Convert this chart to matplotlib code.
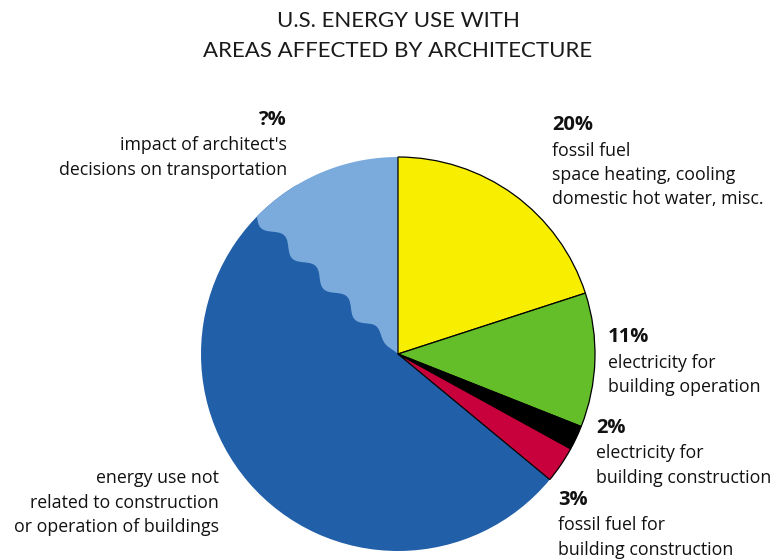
import numpy as np
import matplotlib
matplotlib.use("Agg")
import matplotlib.pyplot as plt
from matplotlib.patches import Polygon

## Data

shares = [20, 11, 2, 3, 51.3, 12.7]
colors = ["#f7ee00", "#63be2a", "#000000", "#c8003c", "#2160a9", "#7babdc"]
outlined = [True, True, True, True, False, False]

title_lines = ["U.S. ENERGY USE WITH", "AREAS AFFECTED BY ARCHITECTURE"]
pct_labels = ["20%", "11%", "2%", "3%", "", "?%"]
desc_labels = [
    ["fossil fuel", "space heating, cooling", "domestic hot water, misc."],
    ["electricity for", "building operation"],
    ["electricity for", "building construction"],
    ["fossil fuel for", "building construction"],
    ["energy use not", "related to construction", "or operation of buildings"],
    ["impact of architect's", "decisions on transportation"],
]

## Layout (pixel space, y measured from top)

W, H = 773, 559
cx, cy, r = 398, 354, 197
label_pos = [(552, 125, "left"), (608, 337, "left"), (596, 428, "left"),
             (558, 500, "left"), (219, 478, "right"), (287, 120, "right")]
line_gap = 24.5

plt.rcParams["font.family"] = ["Open Sans", "DejaVu Sans"]

fig = plt.figure(figsize=(W / 100, H / 100), dpi=100)
ax = fig.add_axes([0, 0, 1, 1])

wedges, _ = ax.pie(shares, colors=colors, startangle=90, counterclock=False,
                   center=(cx, H - cy), radius=r, frame=True)
ax.set_xlim(0, W)
ax.set_ylim(0, H)
ax.set_aspect("equal")
ax.axis("off")

for w, o in zip(wedges, outlined):
    if o:
        w.set_edgecolor("black")
        w.set_linewidth(0.9)
    else:
        w.set_linewidth(0)

# light blue wedge gets a wavy edge against the dark blue one
lb, db = wedges[5], wedges[4]
def near(a, b):
    d = (a - b) % 360
    return min(d, 360 - d) < 1

bound = lb.theta2 if near(lb.theta1, 90) else lb.theta1
top = lb.theta1 if bound == lb.theta2 else lb.theta2
arc = np.radians(np.linspace(top, bound, 80))
ccx, ccy = cx, H - cy
pts = [(ccx + r * np.cos(a), ccy + r * np.sin(a)) for a in arc]
b = np.radians(bound)
ux, uy = np.cos(b), np.sin(b)
sgn = 1 if top < bound else -1
nx, ny = -np.sin(b) * sgn, np.cos(b) * sgn   # normal pointing into dark blue side
t = np.linspace(0, 1, 300)
taper = np.clip((1 - t) * 5, 0, 1)
off = 5.5 * taper * np.sin(2 * np.pi * 4.5 * t)
for ti, oi in zip(t, off):
    d = r * (1 - ti)
    pts.append((ccx + d * ux + oi * nx, ccy + d * uy + oi * ny))
poly = Polygon(pts, closed=True, facecolor=lb.get_facecolor(), edgecolor="none", zorder=3)
lb.set_visible(False)
# stretch the dark blue wedge under the light blue one so no gaps show
if near(db.theta1, bound):
    db.set_theta1(db.theta1 - 15)
else:
    db.set_theta2(db.theta2 + 15)
ax.add_patch(poly)
for w in wedges[:4]:
    w.set_zorder(4)

# title
for i, line in enumerate(title_lines):
    ax.text(398, H - (21 + 30 * i), line, ha="center", va="center",
            fontsize=16, color="#1a1a1a", family=["Lato", "DejaVu Sans"])

# labels
for (x, y, ha), pct, desc in zip(label_pos, pct_labels, desc_labels):
    yy = y
    if pct:
        ax.text(x, H - yy, pct, ha=ha, va="center", fontsize=14.5,
                fontweight="bold", color="#111111")
        yy += line_gap + 1
    for line in desc:
        ax.text(x, H - yy, line, ha=ha, va="center", fontsize=12.8,
                color="#111111")
        yy += line_gap

fig.savefig("out.png", dpi=100)
